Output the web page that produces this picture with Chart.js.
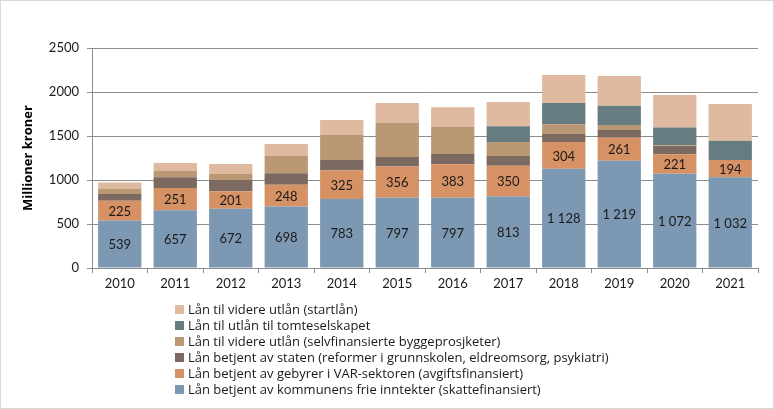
<!DOCTYPE html>
<html>
<head>
<meta charset="utf-8">
<script src="https://cdn.jsdelivr.net/npm/chart.js@4.4.1/dist/chart.umd.min.js"></script>
<style>
  html, body { margin: 0; padding: 0; background: #fff; }
  #wrap { position: relative; width: 772px; height: 407px; border: 1px solid #d9d9d9; }
  #chart { position: absolute; left: -1px; top: -1px; }
  #legend { position: absolute; left: 174px; top: 300px; margin: 0; padding: 0; list-style: none;
            font: 13px "Open Sans", sans-serif; color: #1a1a1a; }
  #legend li { height: 16px; line-height: 16px; display: flex; align-items: center; white-space: nowrap; }
  #legend span.box { display: inline-block; width: 9px; height: 9px; margin-right: 4px; }
</style>
</head>
<body>
<div id="wrap">
  <canvas id="chart" width="774" height="409"></canvas>
  <ul id="legend"></ul>
</div>
<script>
// years on the x axis
const years = ['2010', '2011', '2012', '2013', '2014', '2015', '2016', '2017', '2018', '2019', '2020', '2021'];

// series, bottom of the stack first (millioner kroner)
const skattefinansiert = [539, 657, 672, 698, 783, 797, 797, 813, 1128, 1219, 1072, 1032];
const avgiftsfinansiert = [225, 251, 201, 248, 325, 356, 383, 350, 304, 261, 221, 194];
const betjentAvStaten = [78, 123, 127, 132, 119, 108, 115, 110, 91, 88, 93, 0];
const selvfinansierte = [60, 72, 68, 195, 284, 390, 307, 159, 110, 57, 10, 0];
const tomteselskapet = [0, 0, 0, 0, 0, 0, 0, 178, 242, 219, 200, 221];
const startlan = [70, 91, 114, 136, 171, 224, 224, 276, 318, 338, 371, 417];

const yTicks = [0, 500, 1000, 1500, 2000, 2500];

const gridColor = '#8c8c8c';
const font = 'Lato, sans-serif';

function fmt(v) {
  return String(v).replace(/\B(?=(\d{3})+(?!\d))/g, ' ');
}

// write the value in the middle of the two lowest segments
const segmentLabels = {
  id: 'segmentLabels',
  afterDatasetsDraw(chart) {
    const ctx = chart.ctx;
    ctx.save();
    ctx.font = '13px ' + font;
    ctx.fillStyle = '#1a1a1a';
    ctx.textAlign = 'center';
    ctx.textBaseline = 'middle';
    [0, 1].forEach(di => {
      const meta = chart.getDatasetMeta(di);
      meta.data.forEach((bar, i) => {
        const v = chart.data.datasets[di].data[i];
        const p = bar.getProps(['x', 'y', 'base'], true);
        ctx.fillText(fmt(v), p.x, (p.y + p.base) / 2 + 1);
      });
    });
    ctx.restore();
  }
};

const chart = new Chart(document.getElementById('chart'), {
  type: 'bar',
  data: {
    labels: years,
    datasets: [
      { label: 'Lån betjent av kommunens frie inntekter (skattefinansiert)', data: skattefinansiert, backgroundColor: '#7d98b3' },
      { label: 'Lån betjent av gebyrer i VAR-sektoren (avgiftsfinansiert)', data: avgiftsfinansiert, backgroundColor: '#d69164' },
      { label: 'Lån betjent av staten (reformer i grunnskolen, eldreomsorg, psykiatri)', data: betjentAvStaten, backgroundColor: '#7c6a60' },
      { label: 'Lån til videre utlån (selvfinansierte byggeprosjketer)', data: selvfinansierte, backgroundColor: '#ba9874' },
      { label: 'Lån til utlån til tomteselskapet', data: tomteselskapet, backgroundColor: '#667c80' },
      { label: 'Lån til videre utlån (startlån)', data: startlan, backgroundColor: '#dfbaa0' }
    ]
  },
  options: {
    responsive: false,
    animation: false,
    datasets: { bar: { barPercentage: 0.78, categoryPercentage: 1, borderWidth: 0 } },
    layout: { padding: { left: 20, right: 16, top: 48, bottom: 111 } },
    plugins: {
      legend: { display: false },
      tooltip: { enabled: false }
    },
    scales: {
      x: {
        stacked: true,
        afterFit(axis) { axis.height = 30; },
        grid: { offset: true, drawOnChartArea: false, color: gridColor, tickLength: 5 },
        border: { color: gridColor },
        ticks: { color: '#1a1a1a', font: { family: font, size: 13 }, padding: 3 }
      },
      y: {
        stacked: true,
        min: 0,
        max: 2500,
        afterFit(axis) { axis.width = 72; },
        afterBuildTicks(axis) { axis.ticks = yTicks.map(v => ({ value: v })); },
        grid: { color: gridColor, tickLength: 5 },
        border: { color: gridColor },
        ticks: { color: '#1a1a1a', font: { family: font, size: 13 }, padding: 8, callback: v => String(v) },
        title: {
          display: true,
          text: 'Millioner kroner',
          color: '#000',
          font: { family: '"Open Sans", sans-serif', size: 13, weight: 'bold' },
          padding: { top: 0, bottom: 0 }
        }
      }
    }
  },
  plugins: [segmentLabels]
});

// legend below the chart, one entry per line, top series first
const items = Chart.defaults.plugins.legend.labels.generateLabels(chart).reverse();
const ul = document.getElementById('legend');
items.forEach(it => {
  const li = document.createElement('li');
  const box = document.createElement('span');
  box.className = 'box';
  box.style.background = it.fillStyle;
  li.appendChild(box);
  li.appendChild(document.createTextNode(it.text));
  ul.appendChild(li);
});
</script>
</body>
</html>
